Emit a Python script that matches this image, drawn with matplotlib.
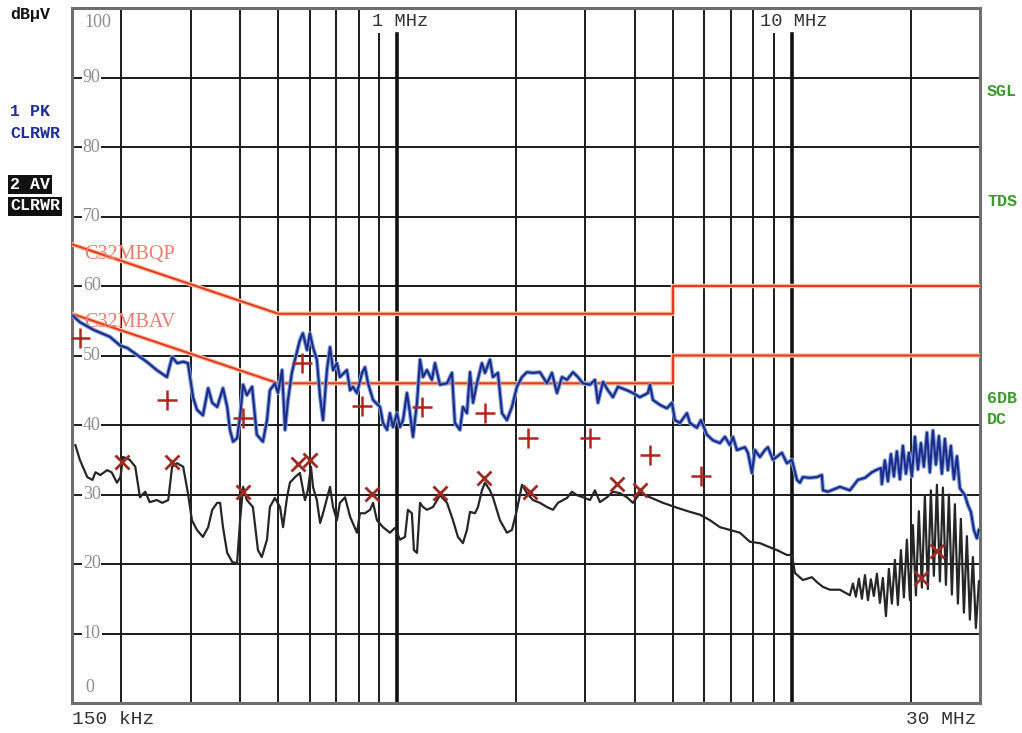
import matplotlib
matplotlib.use('Agg')
import matplotlib.pyplot as plt
import matplotlib.patheffects as pe
import numpy as np

# frequency in MHz, level in dBuV
# 1 PK trace (blue)
pk_trace = [
    (0.151, 55.7), (0.157, 54.8), (0.170, 53.7), (0.187, 52.7), (0.199, 51.4), (0.207, 51.1), (0.219, 50.1), (0.232, 49.1),
    (0.246, 47.9), (0.261, 46.9), (0.269, 49.8), (0.277, 48.9), (0.287, 49.1), (0.295, 48.9), (0.304, 44.0), (0.311, 42.2),
    (0.322, 41.4), (0.332, 45.3), (0.340, 43.2), (0.350, 42.6), (0.362, 45.3), (0.371, 42.6), (0.377, 39.3), (0.384, 37.6),
    (0.393, 38.1), (0.400, 41.2), (0.407, 45.8), (0.416, 44.3), (0.429, 45.5), (0.441, 38.6), (0.457, 37.6), (0.468, 40.7),
    (0.476, 45.0), (0.490, 46.0), (0.499, 44.6), (0.511, 47.9), (0.520, 39.3), (0.529, 43.6), (0.541, 47.5), (0.551, 49.4),
    (0.567, 52.2), (0.577, 53.2), (0.591, 50.8), (0.601, 53.2), (0.612, 51.2), (0.626, 49.4), (0.638, 44.0), (0.649, 40.7),
    (0.664, 47.9), (0.676, 51.2), (0.688, 47.9), (0.704, 48.9), (0.716, 46.9), (0.746, 47.9), (0.760, 45.0), (0.773, 45.5),
    (0.791, 44.6), (0.815, 47.5), (0.829, 48.3), (0.844, 46.0), (0.869, 43.6), (0.905, 42.6), (0.921, 40.3), (0.943, 39.3),
    (0.959, 41.7), (0.976, 39.7), (0.999, 41.7), (1.017, 39.7), (1.035, 40.7), (1.059, 44.6), (1.078, 41.7), (1.097, 38.3),
    (1.123, 43.2), (1.143, 49.4), (1.163, 46.9), (1.190, 47.9), (1.225, 46.5), (1.247, 48.9), (1.284, 45.8), (1.338, 46.0),
    (1.377, 47.5), (1.401, 40.3), (1.443, 39.3), (1.468, 42.6), (1.503, 41.7), (1.530, 47.6), (1.557, 43.2), (1.593, 46.0),
    (1.640, 48.9), (1.670, 47.5), (1.719, 49.4), (1.749, 46.9), (1.801, 47.5), (1.844, 41.7), (1.898, 40.7), (1.954, 42.6),
    (2.012, 45.5), (2.072, 46.9), (2.133, 47.6), (2.209, 47.5), (2.301, 47.6), (2.397, 46.0), (2.468, 47.5), (2.541, 44.6),
    (2.616, 46.9), (2.694, 46.5), (2.790, 47.6), (2.872, 46.9), (2.957, 46.0), (3.081, 45.8), (3.172, 46.5), (3.228, 43.2),
    (3.324, 46.2), (3.422, 45.0), (3.523, 44.0), (3.627, 45.5), (3.823, 45.0), (3.959, 44.6), (4.124, 44.0), (4.321, 44.6),
    (4.372, 45.8), (4.449, 43.6), (4.635, 42.9), (4.828, 42.4), (4.971, 43.2), (5.058, 40.7), (5.208, 40.3), (5.425, 41.7),
    (5.521, 40.3), (5.751, 39.6), (5.887, 40.7), (6.097, 38.6), (6.314, 37.8), (6.577, 37.4), (6.772, 38.3), (6.972, 37.1),
    (7.096, 38.3), (7.263, 36.4), (7.610, 36.8), (7.745, 36.0), (7.927, 33.1), (8.067, 36.4), (8.306, 35.4), (8.552, 36.4),
    (8.703, 36.8), (8.961, 35.0), (9.443, 36.0), (9.723, 34.5), (10.01, 35.0), (10.31, 32.1), (10.49, 31.7), (10.67, 32.5),
    (11.12, 32.4), (11.58, 32.5), (11.92, 32.8), (12.00, 30.6), (12.35, 30.4), (13.25, 31.1), (14.04, 30.6), (14.71, 32.1),
    (15.33, 32.4), (15.97, 33.2), (16.34, 33.5), (16.83, 33.8), (16.92, 31.5), (17.22, 34.9), (17.53, 31.9), (17.84, 35.8),
    (18.15, 32.6), (18.47, 36.2), (18.80, 32.2), (19.13, 37.0), (19.47, 33.0), (19.81, 36.0), (20.16, 32.6), (20.52, 38.3),
    (20.88, 33.6), (21.25, 37.4), (21.62, 34.0), (22.01, 38.9), (22.39, 33.2), (22.79, 39.2), (23.19, 34.3), (23.60, 38.4),
    (24.02, 33.0), (24.44, 38.0), (24.87, 33.5), (25.31, 37.0), (25.76, 32.2), (26.22, 35.5), (26.68, 30.9), (27.47, 29.9),
    (27.95, 28.5), (28.45, 27.5), (28.95, 24.9), (29.46, 23.7), (29.81, 24.9),
]

# 2 AV trace (black)
av_trace = [
    (0.153, 37.1), (0.157, 35.0), (0.164, 32.5), (0.169, 32.1), (0.172, 33.2), (0.177, 32.8), (0.184, 33.5), (0.189, 33.2),
    (0.195, 31.7), (0.199, 32.5), (0.202, 35.4), (0.210, 35.0), (0.217, 34.0), (0.223, 29.6), (0.230, 30.4), (0.236, 28.9),
    (0.246, 29.2), (0.254, 28.8), (0.263, 29.2), (0.269, 34.0), (0.277, 34.5), (0.287, 34.0), (0.295, 30.2), (0.302, 26.3),
    (0.311, 24.9), (0.322, 23.9), (0.332, 25.3), (0.340, 27.8), (0.350, 28.8), (0.356, 28.8), (0.362, 25.3), (0.371, 21.6),
    (0.382, 20.3), (0.393, 20.1), (0.400, 26.3), (0.407, 31.1), (0.416, 29.2), (0.431, 28.2), (0.444, 22.0), (0.454, 21.0),
    (0.468, 23.5), (0.476, 28.2), (0.490, 29.5), (0.505, 28.2), (0.514, 25.3), (0.526, 29.6), (0.535, 31.7), (0.551, 32.5),
    (0.567, 33.1), (0.584, 29.2), (0.594, 30.6), (0.605, 34.0), (0.612, 31.1), (0.626, 29.2), (0.638, 25.9), (0.649, 27.3),
    (0.676, 31.1), (0.688, 28.2), (0.704, 26.3), (0.716, 28.8), (0.738, 29.6), (0.760, 26.8), (0.791, 24.5), (0.805, 27.3),
    (0.829, 27.3), (0.854, 27.8), (0.869, 28.8), (0.889, 26.3), (0.921, 25.3), (0.959, 24.5), (0.988, 25.2), (1.017, 23.5),
    (1.047, 23.9), (1.065, 27.8), (1.090, 27.3), (1.103, 22.0), (1.123, 21.6), (1.143, 28.8), (1.163, 28.2), (1.190, 27.8),
    (1.233, 28.2), (1.284, 29.9), (1.338, 28.8), (1.385, 26.3), (1.426, 23.9), (1.468, 23.0), (1.503, 24.9), (1.530, 27.5),
    (1.575, 27.3), (1.603, 28.2), (1.640, 30.6), (1.670, 31.7), (1.719, 30.6), (1.749, 29.6), (1.822, 26.3), (1.898, 24.5),
    (1.954, 24.9), (2.012, 27.8), (2.072, 31.4), (2.133, 30.2), (2.209, 29.2), (2.301, 28.8), (2.397, 28.2), (2.483, 27.8),
    (2.556, 28.8), (2.694, 29.5), (2.773, 30.4), (2.856, 29.9), (2.957, 29.6), (3.081, 29.2), (3.172, 30.6), (3.266, 28.9),
    (3.402, 29.6), (3.523, 30.4), (3.670, 30.2), (3.823, 29.6), (3.959, 28.8), (4.124, 30.2), (4.372, 29.6), (4.717, 28.8),
    (5.118, 28.1), (5.521, 27.5), (5.853, 27.1), (6.205, 26.3), (6.577, 25.3), (6.972, 24.9), (7.391, 24.5), (7.835, 23.2),
    (8.306, 23.0), (8.805, 22.4), (9.172, 22.0), (9.723, 21.3), (10.01, 21.3), (10.19, 18.7), (10.67, 17.7), (11.25, 18.1),
    (11.58, 17.4), (12.00, 16.7), (12.50, 16.3), (13.25, 16.3), (14.04, 15.5), (14.29, 17.2), (14.54, 15.3), (14.80, 17.9),
    (15.06, 15.0), (15.33, 18.4), (15.60, 14.8), (15.87, 17.8), (16.15, 15.4), (16.44, 18.6), (16.73, 14.4), (17.02, 18.0),
    (17.33, 12.5), (17.63, 19.3), (17.94, 14.3), (18.26, 20.6), (18.58, 14.1), (18.91, 22.0), (19.24, 15.2), (19.58, 23.5),
    (19.93, 14.8), (20.28, 25.6), (20.64, 15.5), (21.00, 27.6), (21.37, 16.6), (21.75, 29.9), (22.13, 16.4), (22.52, 30.6),
    (22.92, 18.3), (23.33, 31.4), (23.74, 17.5), (24.16, 31.0), (24.59, 17.0), (25.02, 30.0), (25.46, 15.6), (25.91, 28.6),
    (26.37, 14.3), (26.83, 26.5), (27.31, 13.0), (27.79, 24.0), (28.28, 12.0), (28.78, 21.0), (29.29, 10.8), (29.81, 17.5),
]

# final measurement points
qp_marks_freq = [0.157, 0.261, 0.407, 0.574, 0.815, 1.156, 1.670, 2.146, 3.081, 4.372, 5.887]
qp_marks_level = [52.5, 43.6, 41.0, 48.9, 42.7, 42.6, 41.7, 38.1, 38.1, 35.7, 32.7]
av_marks_freq = [0.201, 0.269, 0.407, 0.561, 0.601, 0.864, 1.284, 1.660, 2.171, 3.606, 4.124, 21.25, 23.33]
av_marks_level = [34.7, 34.7, 30.4, 34.4, 35.0, 30.1, 30.2, 32.4, 30.4, 31.5, 30.6, 18.0, 21.9]

# limit lines C32MBQP / C32MBAV
limit_freq = [0.15, 0.5, 5.0, 5.0, 30.0]
qp_limit = [66, 56, 56, 60, 60]
av_limit = [56, 46, 46, 50, 50]

W, H = 1022, 733
fig = plt.figure(figsize=(W / 100, H / 100), dpi=100)
ax = fig.add_axes([72 / W, 30 / H, 908 / W, 695 / H])
ax.set_xscale('log')
ax.set_xlim(0.15, 30)
ax.set_ylim(0, 100)
ax.set_xticks([])
ax.set_yticks([])
ax.minorticks_off()
for s in ax.spines.values():
    s.set_color('#6e6e6e')
    s.set_linewidth(2.2)

# grid
for lv in range(10, 100, 10):
    ax.axhline(lv, color='#1a1a1a', lw=1.4, zorder=1)
for f in [0.2, 0.3, 0.4, 0.5, 0.6, 0.7, 0.8, 2, 3, 4, 5, 6, 7, 8, 20]:
    ax.axvline(f, color='#1a1a1a', lw=1.4, zorder=1)
for f in [0.9, 9]:
    ax.plot([f, f], [0, 96.2], color='#1a1a1a', lw=1.4, zorder=1)
for f in [1, 10]:
    ax.plot([f, f], [0, 96.2], color='#111111', lw=2.6, zorder=1)

# level labels inside the frame
mono = 'Liberation Mono'
serif = 'Liberation Serif'
for lv in range(10, 100, 10):
    ax.text(0.1598, lv, str(lv), fontsize=13, family=serif, color='#8e8e8e',
            ha='left', va='center', zorder=3,
            bbox=dict(facecolor='white', edgecolor='none', pad=0.5))
ax.text(0.161, 97.9, '100', fontsize=13, family=serif, color='#8e8e8e', ha='left', va='center')
ax.text(0.162, 2.2, '0', fontsize=13, family=serif, color='#8e8e8e', ha='left', va='center')
ax.text(0.864, 98.0, '1 MHz', fontsize=13.5, family=mono, color='#333333', ha='left', va='center')
ax.text(8.306, 98.0, '10 MHz', fontsize=13.5, family=mono, color='#333333', ha='left', va='center')

# limits
halo = [pe.Stroke(linewidth=3.2, foreground='#f7c9a0'), pe.Normal()]
ax.plot(limit_freq, qp_limit, color='#e8382a', lw=1.5, zorder=4, path_effects=halo)
ax.plot(limit_freq, av_limit, color='#e8382a', lw=1.5, zorder=4, path_effects=halo)
ax.text(0.161, 64.5, 'C32MBQP', fontsize=14.5, family=serif, color='#ea7d6a', va='center', zorder=5)
ax.text(0.161, 54.8, 'C32MBAV', fontsize=14.5, family=serif, color='#ea7d6a', va='center', zorder=5)

# traces
pk = np.array(pk_trace)
av = np.array(av_trace)
ax.plot(pk[:, 0], pk[:, 1], color='#1c2a8a', lw=1.5, zorder=6,
        path_effects=[pe.Stroke(linewidth=3.0, foreground='#7f9fd6'), pe.Normal()])
ax.plot(av[:, 0], av[:, 1], color='#262626', lw=1.6, zorder=6)

# markers
ax.plot(qp_marks_freq, qp_marks_level, ls='none', marker='+', ms=14, mew=1.8, color='#b0261e', zorder=7)
ax.plot(av_marks_freq, av_marks_level, ls='none', marker='x', ms=10, mew=2.0, color='#9e2a22', zorder=7)

# surrounding labels
def ftext(x, y, s, **kw):
    fig.text(x / W, 1 - y / H, s, va='center', ha='left', **kw)

ftext(10, 15, 'dBµV', fontsize=12, family=mono, weight='bold', color='#111111')
ftext(10, 112, '1 PK', fontsize=12, family=mono, weight='bold', color='#1f2f9a')
ftext(10, 134, 'CLRWR', fontsize=12, family=mono, weight='bold', color='#1f2f9a')
ftext(10, 184, '2 AV', fontsize=12, family=mono, weight='bold', color='white',
      bbox=dict(facecolor='#111111', edgecolor='none', pad=1.5))
ftext(10, 206, 'CLRWR', fontsize=12, family=mono, weight='bold', color='white',
      bbox=dict(facecolor='#111111', edgecolor='none', pad=1.5))
green = '#3a9a2a'
ftext(987, 91, 'SGL', fontsize=12, family=mono, weight='bold', color=green)
ftext(987, 201, 'TDS', fontsize=12, family=mono, weight='bold', color=green)
ftext(987, 398, '6DB', fontsize=12, family=mono, weight='bold', color=green)
ftext(987, 419, 'DC', fontsize=12, family=mono, weight='bold', color=green)
ftext(72, 720, '150 kHz', fontsize=14, family=mono, color='#333333')
ftext(906, 720, '30 MHz', fontsize=14, family=mono, color='#333333')

fig.savefig('out.png', dpi=100)
